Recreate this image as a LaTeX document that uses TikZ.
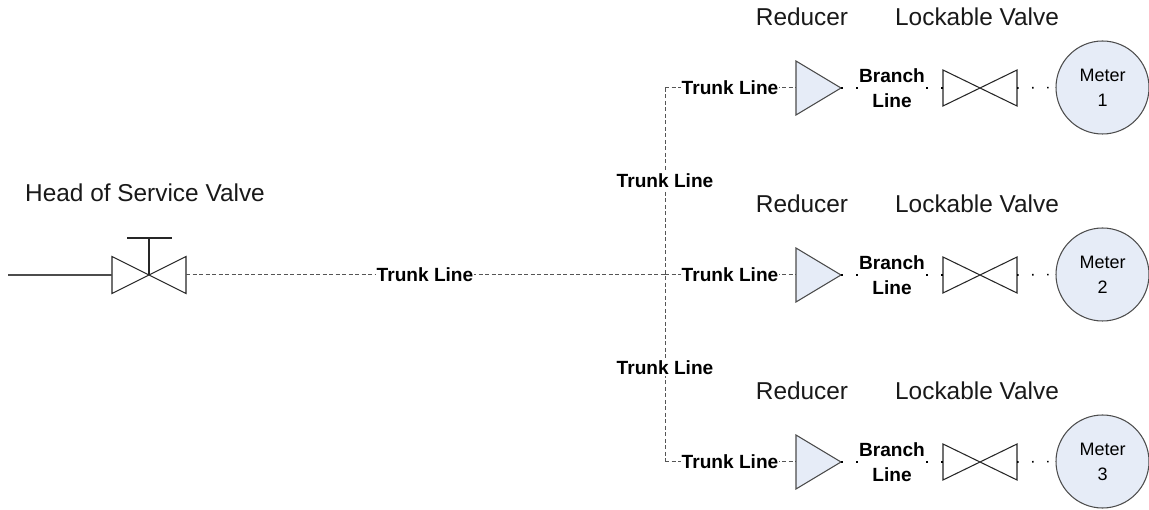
\documentclass[tikz,border=0pt]{standalone}
\usepackage{fontspec}
\setmainfont{Liberation Sans}
\definecolor{pale}{HTML}{E6ECF7}
\definecolor{dashgrey}{HTML}{555555}
\tikzset{
  x=1pt,y=-1pt,
  caption/.style={font=\fontsize{24.4}{28}\selectfont,inner sep=0pt,text=black!90},
  trunklabel/.style={font=\fontsize{19.1}{23}\bfseries\selectfont,fill=white,inner sep=1pt,text=black,align=center},
  branchlabel/.style={font=\fontsize{19.1}{25}\bfseries\selectfont,inner sep=0pt,text=black,align=center},
  slot/.style={inner sep=0pt,outer sep=0pt,minimum width=#1},
  trunk/.style={draw=dashgrey,line width=1pt,dash pattern=on 4pt off 2.5pt},
  dots/.style={draw=black,line width=1.6pt,dash pattern=on 1.6pt off 13.4pt},
  outline/.style={draw=black!85,line width=1.05pt,line join=miter},
  shapeblue/.style={outline,draw=black!70,fill=pale},
  meter/.style={circle,shapeblue,minimum size=93pt,inner sep=0pt,align=center,font=\fontsize{18}{25}\selectfont}
}
\begin{document}
\begin{tikzpicture}
\useasboundingbox[fill=white] (0,0) rectangle (1149,510);
% head of service valve
\node[caption] (headcap) at (145,193) {Head of Service Valve};
\coordinate (inlet) at (8,275);
\node[slot=74pt,minimum height=37pt] (hv) at (149,275) {};
\coordinate (stemtop) at (149,238);
\coordinate (handleL) at (127,238);
\coordinate (handleR) at (172,238);
\draw[outline,fill=white] (hv.north west) -- (hv.south east) -- (hv.north east) -- (hv.south west) -- cycle;
\draw[outline] (hv.center) -- (stemtop);
\draw[outline] (handleL) -- (handleR);
\draw[draw=black!70,line width=1.2pt] (inlet) -- (hv.west);
% trunk junctions
\coordinate (jtop) at (665,88);
\coordinate (jmid) at (665,275);
\coordinate (jbot) at (665,462);
\draw[trunk] (hv.east) -- (jmid);
\draw[trunk] (jtop) -- (jbot);
\node[trunklabel] (tmain) at (425,274.5) {Trunk Line};
\node[trunklabel] (tv1) at (665,180.5) {Trunk Line};
\node[trunklabel] (tv2) at (665,367.5) {Trunk Line};
% rows
\foreach \i/\y in {1/88,2/275,3/462}{
  \node[caption] (rc\i) at (802,\y-71) {Reducer};
  \node[caption] (lc\i) at (977,\y-71) {Lockable Valve};
  \node[slot=45pt,minimum height=54pt] (r\i) at (818.5,\y) {};
  \node[slot=74pt,minimum height=36pt] (v\i) at (980,\y) {};
  \node[meter] (m\i) at (1102.5,\y-0.5) {Meter\\\i};
  \node[branchlabel] (b\i) at (892,\y) {Branch\\Line};
  \draw[trunk] (j\ifcase\i\or top\or mid\or bot\fi) -- (r\i.west);
  \node[trunklabel] (t\i) at (730,\y) {Trunk Line};
  \draw[shapeblue] (r\i.north west) -- (r\i.east) -- (r\i.south west) -- cycle;
  \draw[outline] (v\i.north west) -- (v\i.south east) -- (v\i.north east) -- (v\i.south west) -- cycle;
  \draw[dots] (r\i.east) -- (b\i.west);
  \draw[dots] (v\i.west) -- (b\i.east);
  \draw[dots] (v\i.east) -- (m\i.west);
}
\end{tikzpicture}
\end{document}
